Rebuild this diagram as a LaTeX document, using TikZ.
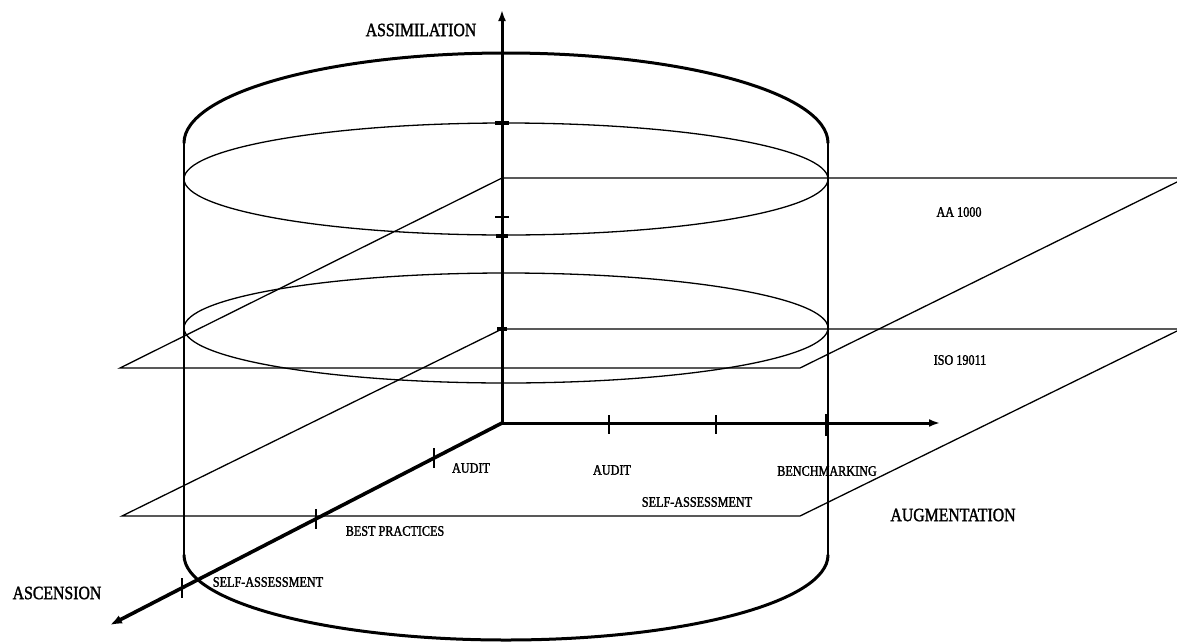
\documentclass[tikz,border=0pt]{standalone}
\usepackage{fontspec}
\setmainfont{Liberation Serif}
\newfontfamily\labfont[FakeStretch=0.84,FakeBold=1.6]{Liberation Serif}
\usetikzlibrary{arrows.meta}
\begin{document}
\begin{tikzpicture}[x=1pt,y=-1pt,
  axisline/.style={line width=3pt,-{Latex[length=11pt,width=8pt]}},
  thinline/.style={line width=1.3pt},
  rimline/.style={line width=3pt,line cap=round},
  sideline/.style={line width=2.3pt},
  ticku/.style={line width=1.8pt},
  tickblob/.style={line width=3.2pt},
  smalllab/.style={font=\labfont\fontsize{14.5}{16}\selectfont, inner sep=0pt},
  biglab/.style={font=\labfont\fontsize{18.8}{20}\selectfont, inner sep=0pt},
]
\useasboundingbox (0,0) rectangle (1177,643);

% named points
\coordinate (O) at (502,423);
\coordinate (Ytip) at (502,10);
\coordinate (Xtip) at (940,423);
\coordinate (Ztip) at (110,625);
\coordinate (cylTL) at (184,143);
\coordinate (cylTR) at (828,143);
\coordinate (cylBL) at (184,555);
\coordinate (cylBR) at (828,555);
\coordinate (e1) at (506,179);
\coordinate (e2) at (506,328);
% plane 1
\coordinate (p1br) at (1177,178);
\coordinate (p1bl) at (502,178);
\coordinate (p1fl) at (120,368);
\coordinate (p1fr) at (800,368);
\coordinate (p1re) at (1177,182);
% plane 2
\coordinate (p2br) at (1177,329);
\coordinate (p2bl) at (502,329);
\coordinate (p2fl) at (122,516);
\coordinate (p2fr) at (800,516);
\coordinate (p2re) at (1177,331);

% labels
\node[biglab] (assim) at (421,30) {ASSIMILATION};
\node[smalllab] (aa) at (959,212) {AA 1000};
\node[smalllab] (iso) at (960,360) {ISO 19011};
\node[smalllab] (audz) at (471,468) {AUDIT};
\node[smalllab] (bp) at (395,531) {BEST PRACTICES};
\node[smalllab] (saz) at (268,582) {SELF-ASSESSMENT};
\node[biglab] (asc) at (57,593) {ASCENSION};
\node[smalllab] (audx) at (612,470) {AUDIT};
\node[smalllab] (bench) at (827,471) {BENCHMARKING};
\node[smalllab] (sax) at (697,502) {SELF-ASSESSMENT};
\node[biglab] (aug) at (953,515) {AUGMENTATION};

% planes
\draw[thinline] (p1br) -- (p1bl) -- (p1fl) -- (p1fr) -- (p1re);
\draw[thinline] (p2br) -- (p2bl) -- (p2fl) -- (p2fr) -- (p2re);

% inner ellipses
\draw[thinline] (e1) ellipse [x radius=322pt, y radius=56pt];
\draw[thinline] (e2) ellipse [x radius=322pt, y radius=55pt];

% cylinder
\draw[sideline] (cylBL) -- (cylTL);
\draw[sideline] (cylBR) -- (cylTR);
\draw[rimline] (cylTL) arc[start angle=180, end angle=0, x radius=322pt, y radius=90pt];
\draw[rimline] (cylBR) arc[start angle=0, end angle=-180, x radius=322pt, y radius=85pt];

% axes
\draw[axisline] (O) -- (Ytip);
\draw[axisline] (O) -- (Xtip);
\draw[line width=3.6pt,-{Latex[length=12pt,width=9pt]}] (O) -- (Ztip);

% ticks on augmentation axis
\draw[ticku] (609,415) -- (609,434);
\draw[ticku] (716,415) -- (716,434);
\draw[line width=4pt] (827,414) -- (827,436);
% ticks on ascension axis
\draw[ticku] (434,448) -- (434,468);
\draw[ticku] (316,509) -- (316,529);
\draw[ticku] (182,578) -- (182,598);
% ticks on assimilation axis
\draw[tickblob] (495,123) -- (509,123);
\draw[line width=2.5pt] (495,217) -- (509,217);
\draw[tickblob] (496,236) -- (508,236);
\draw[tickblob] (497,329) -- (507,329);
\end{tikzpicture}
\end{document}
